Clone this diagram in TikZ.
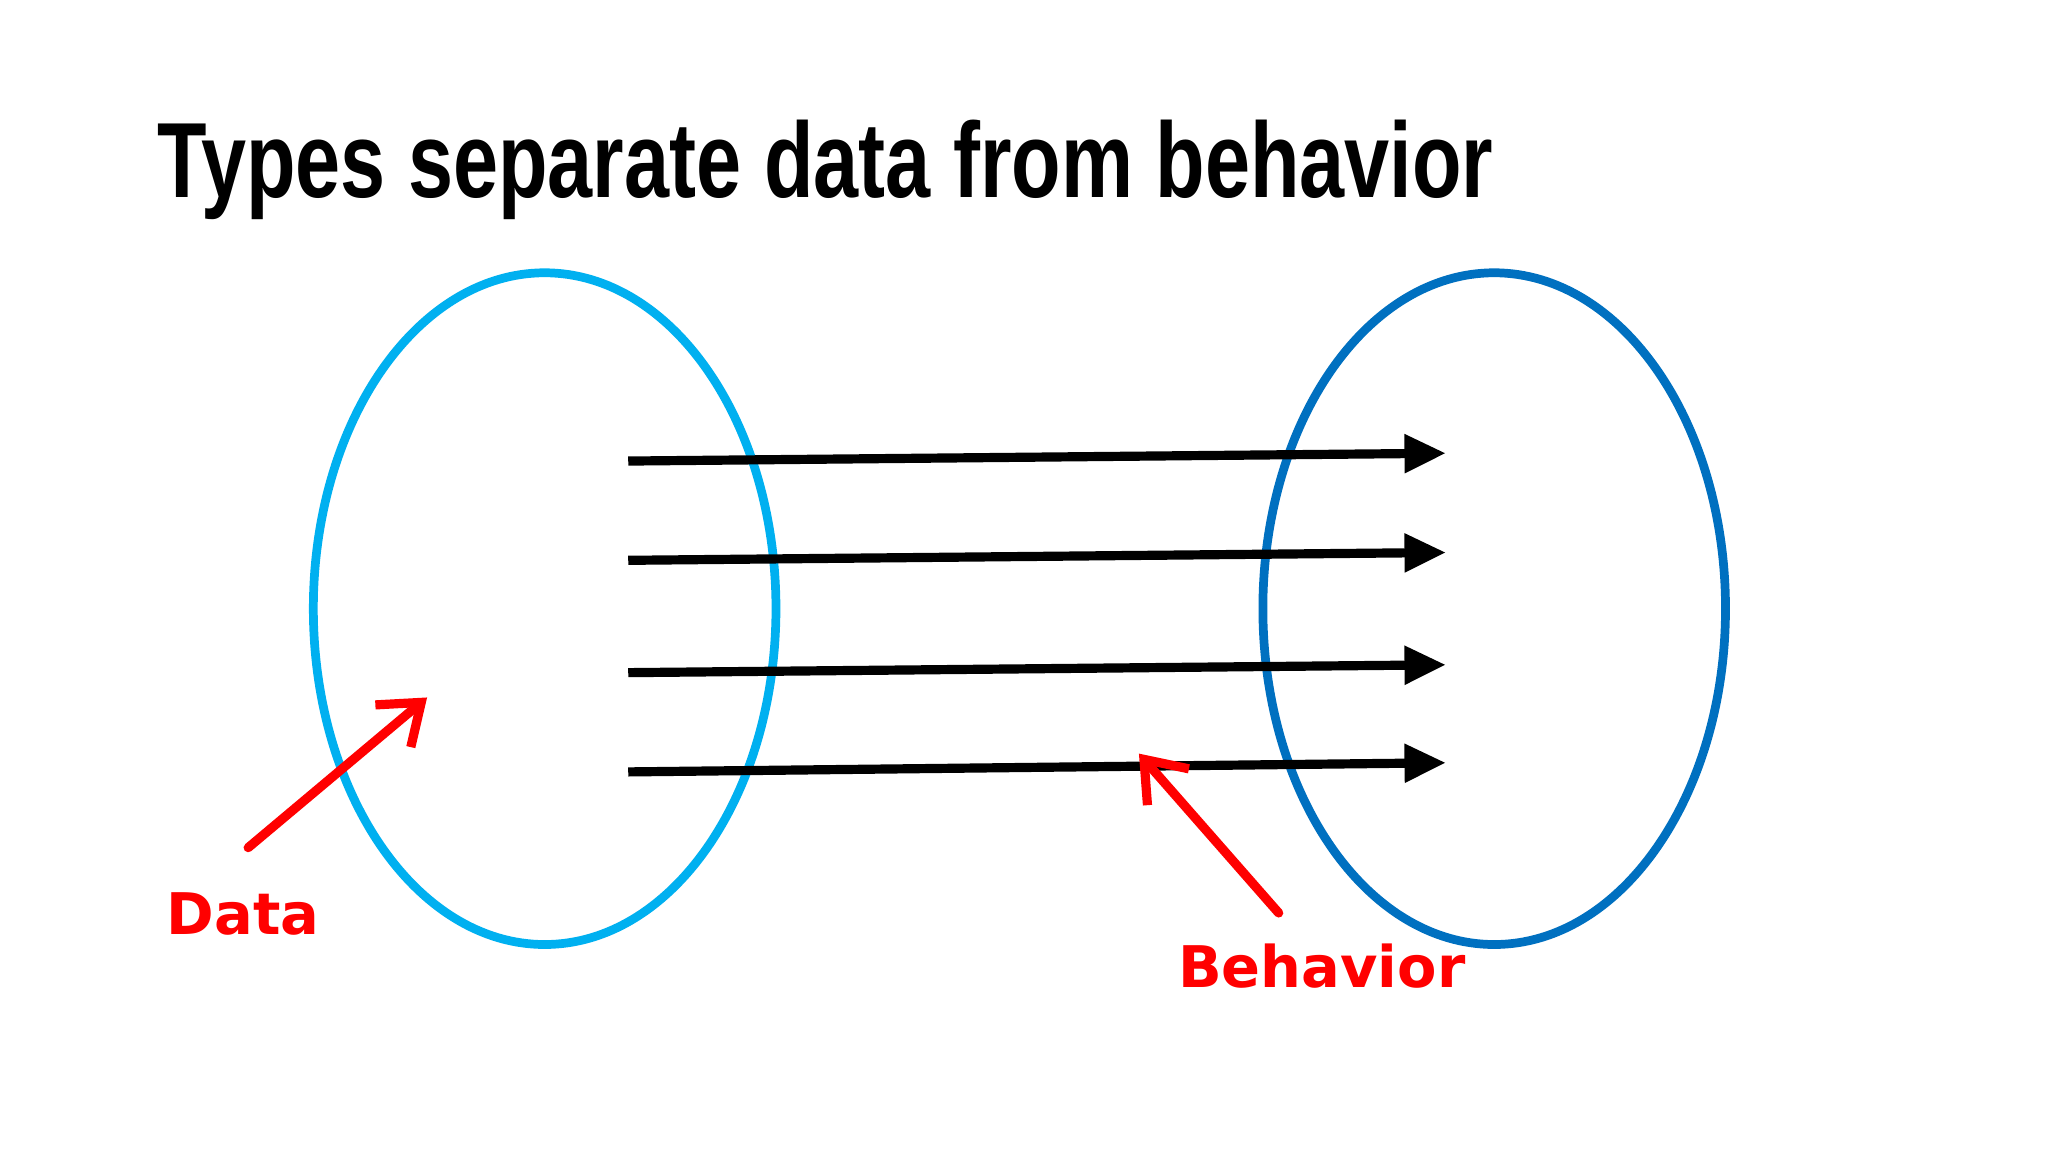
\documentclass[tikz,border=0pt]{standalone}
\usepackage{fontspec}
\setmainfont{Liberation Sans}
\newfontfamily\labfont{DejaVu Sans}
\usetikzlibrary{arrows.meta,shapes.geometric}
\definecolor{lblue}{RGB}{0,176,240}
\definecolor{dblue}{RGB}{0,112,192}
\definecolor{myred}{RGB}{255,0,0}
\begin{document}
\begin{tikzpicture}[x=0.01cm,y=-0.01cm,
  flow/.style={line width=2pt,-{Triangle[length=9pt,width=8pt]}},
  pointer/.style={myred,line width=2pt,line cap=round,-{Straight Barb[length=8pt,width=12pt,line width=2pt]}},
  lab/.style={myred,font=\labfont\bfseries\fontsize{12.5}{13}\selectfont}]
\useasboundingbox[fill=white] (0,0) rectangle (1568,882);
\node[anchor=west,inner sep=0] (title) at (120,130) {\scalebox{0.735}[0.97]{\fontsize{24}{24}\selectfont\bfseries Types separate data from behavior}};
\node[draw=lblue,line width=1.9pt,ellipse,minimum width=3.54cm,minimum height=5.14cm,inner sep=0] (L) at (417,466) {};
\node[draw=dblue,line width=1.9pt,ellipse,minimum width=3.54cm,minimum height=5.14cm,inner sep=0] (R) at (1144,466) {};
\foreach \i/\ya/\yb in {1/353/347,2/429/423,3/515/509,4/591/584}{
  \coordinate (s\i) at (481,\ya);
  \coordinate (e\i) at (1107,\yb);
  \draw[flow] (s\i) -- (e\i);
}
\node[lab] (data) at (186,700) {Data};
\node[lab] (beh) at (1012,740) {Behavior};
\coordinate (d1) at (190,649); \coordinate (d2) at (327,534);
\coordinate (b1) at (979,699); \coordinate (b2) at (872,577);
\draw[pointer] (d1) -- (d2);
\draw[pointer] (b1) -- (b2);
\end{tikzpicture}
\end{document}
